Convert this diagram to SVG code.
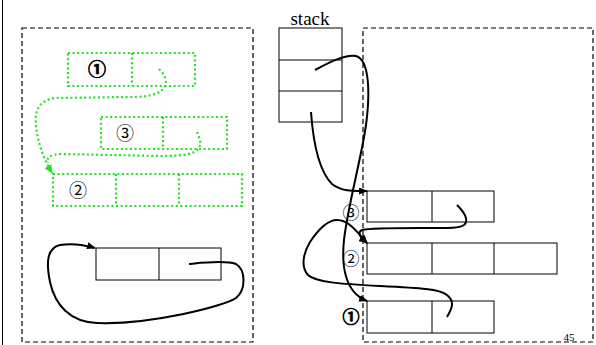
<svg xmlns="http://www.w3.org/2000/svg" width="596" height="345" viewBox="0 0 596 345">
<style>
.dash{fill:none;stroke:#000;stroke-width:1.2;stroke-dasharray:5 3}
.box{fill:#fff;stroke:#000;stroke-width:1}
.gbox{fill:none;stroke:#22e022;stroke-width:2.2;stroke-dasharray:2 2.6}
.gline{fill:none;stroke:#22e022;stroke-width:2.2;stroke-dasharray:2 2.6}
.cur{fill:none;stroke:#000;stroke-width:2}
.num{font-family:"Noto Sans CJK SC","DejaVu Sans",sans-serif;font-size:18px;text-anchor:middle;fill:#000}
.numr{font-size:17px}
.bold{font-weight:bold;stroke:#000;stroke-width:0.7}
.serif{font-family:"Liberation Serif","Times New Roman",serif;fill:#000}
</style>
<defs>
<marker id="ah" markerUnits="userSpaceOnUse" markerWidth="9" markerHeight="7" refX="8" refY="3.5" orient="auto"><path d="M0,0 L9,3.5 L0,7 Z" fill="#000"/></marker>
<marker id="gah" markerUnits="userSpaceOnUse" markerWidth="9" markerHeight="8" refX="8" refY="4" orient="auto"><path d="M0,0 L9,4 L0,8 Z" fill="#22e022"/></marker>
</defs>
<rect x="0" y="0" width="596" height="345" fill="#fff"/>
<line x1="2.5" y1="0" x2="2.5" y2="345" stroke="#000" stroke-width="1"/>
<rect class="dash" x="22" y="28" width="231" height="314"/>
<rect class="dash" x="363" y="28" width="230" height="314"/>
<text class="serif" x="310" y="25" font-size="19" text-anchor="middle">stack</text>
<g id="stack">
<rect class="box" x="279" y="28" width="63" height="94"/>
<line x1="279" y1="60" x2="342" y2="60" stroke="#000"/>
<line x1="279" y1="91" x2="342" y2="91" stroke="#000"/>
</g>
<g id="g1">
<rect class="gbox" x="68" y="53" width="127" height="33"/>
<line class="gline" x1="132" y1="53" x2="132" y2="86"/>
<text class="num bold" x="97" y="76">①</text>
</g>
<g id="g3">
<rect class="gbox" x="101" y="117" width="126" height="32"/>
<line class="gline" x1="163" y1="117" x2="163" y2="149"/>
<text class="num" x="125" y="140">③</text>
</g>
<g id="g2">
<rect class="gbox" x="53" y="174" width="189" height="32"/>
<line class="gline" x1="116" y1="174" x2="116" y2="206"/>
<line class="gline" x1="179" y1="174" x2="179" y2="206"/>
<text class="num" x="78" y="197">②</text>
</g>
<g id="loopnode">
<rect class="box" x="96" y="248" width="125" height="32"/>
<line x1="159" y1="248" x2="159" y2="280" stroke="#000"/>
</g>
<g id="r3">
<rect class="box" x="367" y="191" width="127" height="31"/>
<line x1="432" y1="191" x2="432" y2="222" stroke="#000"/>
<text class="num numr" x="351" y="219">③</text>
</g>
<g id="r2">
<rect class="box" x="367" y="243" width="190" height="31"/>
<line x1="432" y1="243" x2="432" y2="274" stroke="#000"/>
<line x1="494" y1="243" x2="494" y2="274" stroke="#000"/>
<text class="num numr" x="351" y="265">②</text>
</g>
<g id="r1">
<rect class="box" x="367" y="301" width="127" height="32"/>
<line x1="432" y1="301" x2="432" y2="333" stroke="#000"/>
<text class="num numr bold" x="351" y="323">①</text>
</g>
<text class="serif" x="569" y="341" font-size="11" text-anchor="middle">45</text>
<g id="connectors">
<path class="gline" d="M159,69 C163,73 168,80 165,86 C161,94 150,97 130,97 L55,98 C40,100 34,110 36,125 C37,140 43,158 52,173" marker-end="url(#gah)"/>
<path class="gline" d="M197,132 C199,137 202,143 199,148 C195,154 185,156 160,156 L62,154 C50,154 46,158 48,163"/>
<path class="cur" d="M189,264 C200,263 225,260 236,264 C246,270 246,290 236,298 C225,306 150,325 97,323 C70,322 55,305 50,282 C46,262 47,248 60,245 C72,243 85,245 95,248" marker-end="url(#ah)"/>
<path class="cur" d="M315,70 C328,63 345,54 356,56 C370,60 370,95 366,125 C361,160 348,205 344,240 C341,268 346,293 367,301" marker-end="url(#ah)"/>
<path class="cur" d="M311,112 C313,140 318,170 332,184 C342,192 355,191 367,191" marker-end="url(#ah)"/>
<path class="cur" d="M457,205 C463,211 470,220 464,225 C458,229 445,228 420,228 C390,228 370,228 362,230 C357,232 360,238 367,243" marker-end="url(#ah)"/>
<path class="cur" d="M447,317 C451,310 456,302 447,295 C440,289 420,288 380,286 C340,284 315,282 308,275 C300,266 304,252 310,242 C318,230 328,220 337,220 C348,220 356,230 367,243" marker-end="url(#ah)"/>
</g>
</svg>
